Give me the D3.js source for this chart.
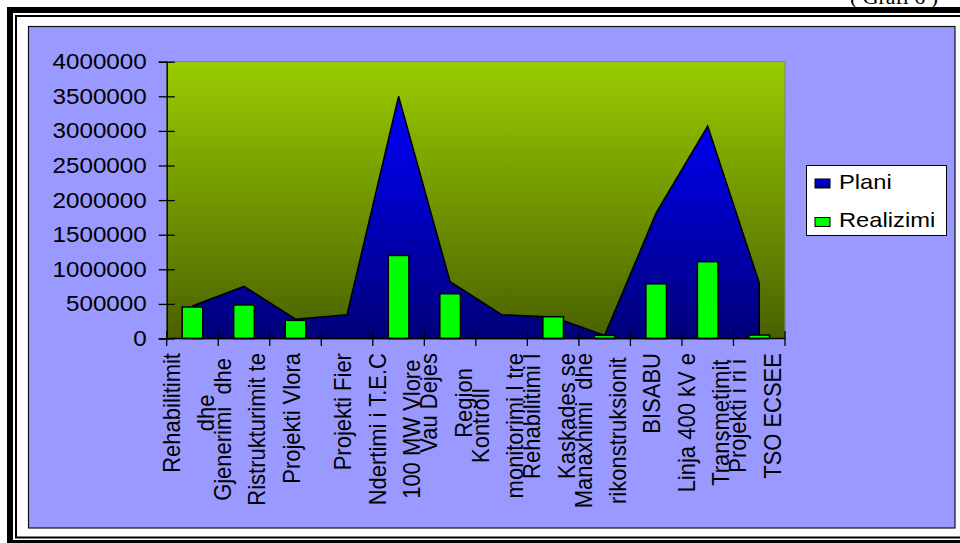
<!DOCTYPE html>
<html>
<head>
<meta charset="utf-8">
<script src="https://cdn.jsdelivr.net/npm/d3@7"></script>
<style>
  html, body { margin: 0; padding: 0; background: #fff; }
  svg { display: block; }
  text { font-family: "Liberation Sans", Arial, sans-serif; fill: #000; white-space: pre; }
</style>
</head>
<body>
<svg width="960" height="543"></svg>
<script>
// category labels, one array of lines per category (middle line often empty)
const categories = [
  ["Rehabilitimit", "", "dhe"],
  ["Gjenerimi  dhe", "", "Ristrukturimit te"],
  ["", "Projekti Vlora", ""],
  ["", "Projekti Fier", ""],
  ["Ndertimi i T.E.C", "", "100 MW Vlore"],
  ["Vau Dejes", "", "Region"],
  ["Kontroll", "", "monitorimi I tre"],
  ["Rehabilitimi I", "", "Kaskades se"],
  ["Manaxhimi  dhe", "", "rikonstruksionit"],
  ["", "BISABU", ""],
  ["Linja 400 kV e", "", "Transmetimit"],
  ["Projekti i ri i", "", "TSO ECSEE"]
];
const plani     = [470000, 755000, 280000, 345000, 3500000, 820000, 345000, 310000, 45000, 1815000, 3070000, 805000];
const realizimi = [455000, 485000, 262000, null, 1200000, 647000, null, 315000, 45000, 790000, 1110000, 50000];
const yTicks = [0, 500000, 1000000, 1500000, 2000000, 2500000, 3000000, 3500000, 4000000];
const seriesNames = ["Plani", "Realizimi"];

let svg = d3.select('svg');
const catKeys = categories.map(l => l.filter(Boolean).join(" "));

const plot = { left: 166.7, right: 785, top: 61.7, bottom: 338.5 };

let x = d3.scaleBand().domain(catKeys).range([plot.left, plot.right]).padding(0);
let y = d3.scaleLinear().domain([0, 4000000]).range([plot.bottom, plot.top]);

let defs = svg.append('defs');
let bgGrad = defs.append('linearGradient').attr('id', 'bg')
  .attr('x1', 0).attr('y1', 0).attr('x2', 0).attr('y2', 1);
bgGrad.append('stop').attr('offset', '0%').attr('stop-color', '#99cc00');
bgGrad.append('stop').attr('offset', '100%').attr('stop-color', '#4a6100');

let blueGrad = defs.append('linearGradient').attr('id', 'blue')
  .attr('x1', 0).attr('y1', 0).attr('x2', 0).attr('y2', 1);
blueGrad.append('stop').attr('offset', '0%').attr('stop-color', '#0000ff');
blueGrad.append('stop').attr('offset', '100%').attr('stop-color', '#00007a');

// outer double frame
svg.append('rect').attr('x', 10).attr('y', 10).attr('width', 1000).attr('height', 533)
  .attr('fill', 'none').attr('stroke', '#000').attr('stroke-width', 6);
svg.append('rect').attr('x', 16).attr('y', 16).attr('width', 1000).attr('height', 521.5)
  .attr('fill', 'none').attr('stroke', '#000').attr('stroke-width', 2);

// caption above the frame, cut off by the page top as in the source
svg.append('text').attr('transform', 'translate(850,3.5) scale(1.15,1)')
  .style('font-family', '"Liberation Serif", "Times New Roman", serif')
  .style('font-size', '19px').text('( Grafi 6 )');

// chart area
svg.append('rect').attr('x', 28.5).attr('y', 26.5).attr('width', 926.5).attr('height', 501.5)
  .attr('fill', '#9999ff').attr('stroke', '#111').attr('stroke-width', 1.2);

// plot area
svg.append('rect').attr('x', plot.left).attr('y', plot.top)
  .attr('width', plot.right - plot.left).attr('height', plot.bottom - plot.top)
  .attr('fill', 'url(#bg)').attr('stroke', '#808080').attr('stroke-width', 1);

// Plani area
let area = d3.area()
  .x((d, i) => x(catKeys[i]) + x.bandwidth() / 2)
  .y0(y(0))
  .y1(d => y(d));

svg.append('path').datum(plani)
  .attr('d', area)
  .attr('fill', 'url(#blue)')
  .attr('stroke', '#000').attr('stroke-width', 1.5).attr('stroke-linejoin', 'miter');

// Realizimi bars
let barW = x.bandwidth() / 2.5;
svg.selectAll('rect.bar')
  .data(realizimi.map((v, i) => ({ v: v, k: catKeys[i] })).filter(d => d.v != null))
  .enter()
  .append('rect')
    .attr('class', 'bar')
    .attr('x', d => x(d.k) + (x.bandwidth() - barW) / 2)
    .attr('width', barW)
    .attr('y', d => y(d.v))
    .attr('height', d => y(0) - y(d.v))
    .attr('fill', '#00ff00')
    .attr('stroke', '#000').attr('stroke-width', 1.5);

// y axis
let yAxis = svg.append('g').attr('transform', 'translate(' + plot.left + ',0)')
  .call(d3.axisLeft(y).tickValues(yTicks).tickFormat(d3.format('d')).tickSize(8).tickPadding(0));
yAxis.select('.domain').attr('stroke', '#000').attr('stroke-width', 1.3);
yAxis.selectAll('.tick line').attr('x1', 8).attr('x2', -8).attr('stroke', '#000').attr('stroke-width', 1.3);
yAxis.selectAll('.tick text')
  .attr('x', 0)
  .attr('transform', 'translate(-20,0) scale(1.1,1)')
  .attr('text-anchor', 'end')
  .style('font-family', '"Liberation Sans", Arial, sans-serif')
  .style('font-size', '22px')
  .attr('fill', '#000');

// x axis line and ticks at category boundaries
svg.append('line').attr('x1', plot.left).attr('x2', plot.right)
  .attr('y1', y(0)).attr('y2', y(0)).attr('stroke', '#000').attr('stroke-width', 1.5);
let bounds = catKeys.map(k => x(k)).concat([x.range()[1]]);
svg.selectAll('line.xtick').data(bounds).enter().append('line')
  .attr('class', 'xtick')
  .attr('x1', d => d).attr('x2', d => d)
  .attr('y1', y(0) - 7.5).attr('y2', y(0) + 7.5)
  .attr('stroke', '#000').attr('stroke-width', 1.3);

// rotated category labels
const lineStep = 17.15;
categories.forEach((lines, c) => {
  let cx = x(catKeys[c]) + x.bandwidth() / 2 - 4;
  let g = svg.append('g');
  let texts = lines.map((t, i) => g.append('text')
    .attr('text-anchor', 'middle')
    .attr('dominant-baseline', 'central')
    .style('font-size', '22px')
    .text(t)
    .datum(cx + lineStep * (i - (lines.length - 1) / 2)));
  let maxLen = d3.max(texts, t => t.node().getComputedTextLength());
  let cy = 353 + maxLen / 2;
  texts.forEach(t => t.attr('transform', 'translate(' + t.datum() + ',' + cy + ') rotate(-90) scale(1,1.08)'));
});

// legend
let legend = svg.append('g');
legend.append('rect').attr('x', 806.5).attr('y', 165.5).attr('width', 140).attr('height', 70)
  .attr('fill', '#fff').attr('stroke', '#000').attr('stroke-width', 1);
let items = legend.selectAll('g.item').data(seriesNames).enter().append('g')
  .attr('class', 'item')
  .attr('transform', (d, i) => 'translate(815,' + (179 + i * 38.5) + ')');
items.append('rect').attr('width', 15).attr('height', 9)
  .attr('fill', (d, i) => i == 0 ? 'url(#blue)' : '#00ff00')
  .attr('stroke', '#000').attr('stroke-width', 1);
items.append('text')
  .attr('transform', 'translate(24,9.5) scale(1.13,1)')
  .style('font-size', '21px')
  .text(d => d);
</script>
</body>
</html>
